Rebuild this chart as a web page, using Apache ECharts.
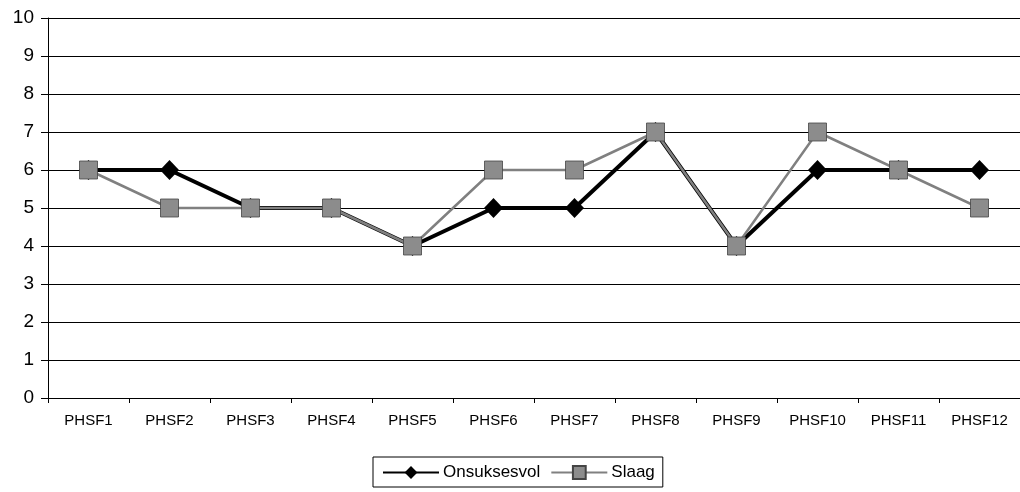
<!DOCTYPE html>
<html>
<head>
<meta charset="utf-8">
<script src="https://cdn.jsdelivr.net/npm/echarts@6/dist/echarts.min.js"></script>
<style>
  html, body { margin: 0; padding: 0; background: #fff; }
  #chart { width: 1020px; height: 492px; }
</style>
</head>
<body>
<div id="chart"></div>
<script>
// Categories and series values
const categories = ['PHSF1', 'PHSF2', 'PHSF3', 'PHSF4', 'PHSF5', 'PHSF6', 'PHSF7', 'PHSF8', 'PHSF9', 'PHSF10', 'PHSF11', 'PHSF12'];
const onsuksesvol = [6, 6, 5, 5, 4, 5, 5, 7, 4, 6, 6, 6];
const slaag = [6, 5, 5, 5, 4, 6, 6, 7, 4, 7, 6, 5];

const FONT = '"Liberation Sans", Arial, sans-serif';

const chart = echarts.init(document.getElementById('chart'));
chart.setOption({
  animation: false,
  backgroundColor: '#fff',
  textStyle: { fontFamily: FONT, color: '#000' },
  grid: { left: 48, right: -3, top: 18, bottom: 94, containLabel: false },
  legend: {
    left: 373,
    top: 457,
    itemWidth: 56,
    itemHeight: 16,
    itemGap: 10,
    padding: [7, 8, 6, 9],
    borderColor: '#000',
    borderWidth: 1,
    textStyle: { fontFamily: FONT, fontSize: 17, color: '#000', padding: [0, 0, 0, -1] },
    data: ['Onsuksesvol', 'Slaag']
  },
  xAxis: {
    type: 'category',
    data: categories,
    boundaryGap: true,
    axisLine: { lineStyle: { color: '#000', width: 1 } },
    axisTick: { show: true, length: 5, inside: false, lineStyle: { color: '#000' } },
    axisLabel: { fontFamily: FONT, fontSize: 15, color: '#000', margin: 15 }
  },
  yAxis: {
    type: 'value',
    min: 0,
    max: 10,
    interval: 1,
    axisLine: { show: true, lineStyle: { color: '#000', width: 1 } },
    axisTick: { show: true, length: 7, lineStyle: { color: '#000' } },
    axisLabel: { fontFamily: FONT, fontSize: 19, color: '#000', margin: 14 },
    splitLine: { show: true, lineStyle: { color: '#000', width: 1 } }
  },
  series: [
    {
      name: 'Onsuksesvol',
      type: 'line',
      data: onsuksesvol,
      symbol: 'diamond',
      symbolSize: [19, 20],
      lineStyle: { color: '#000', width: 4 },
      itemStyle: { color: '#000' },
      z: 2
    },
    {
      name: 'Slaag',
      type: 'line',
      data: slaag,
      symbol: 'rect',
      symbolSize: 18,
      lineStyle: { color: '#808080', width: 2.5 },
      itemStyle: { color: '#8c8c8c', borderColor: '#444', borderWidth: 0.8 },
      z: 3
    }
  ]
});
</script>
</body>
</html>
